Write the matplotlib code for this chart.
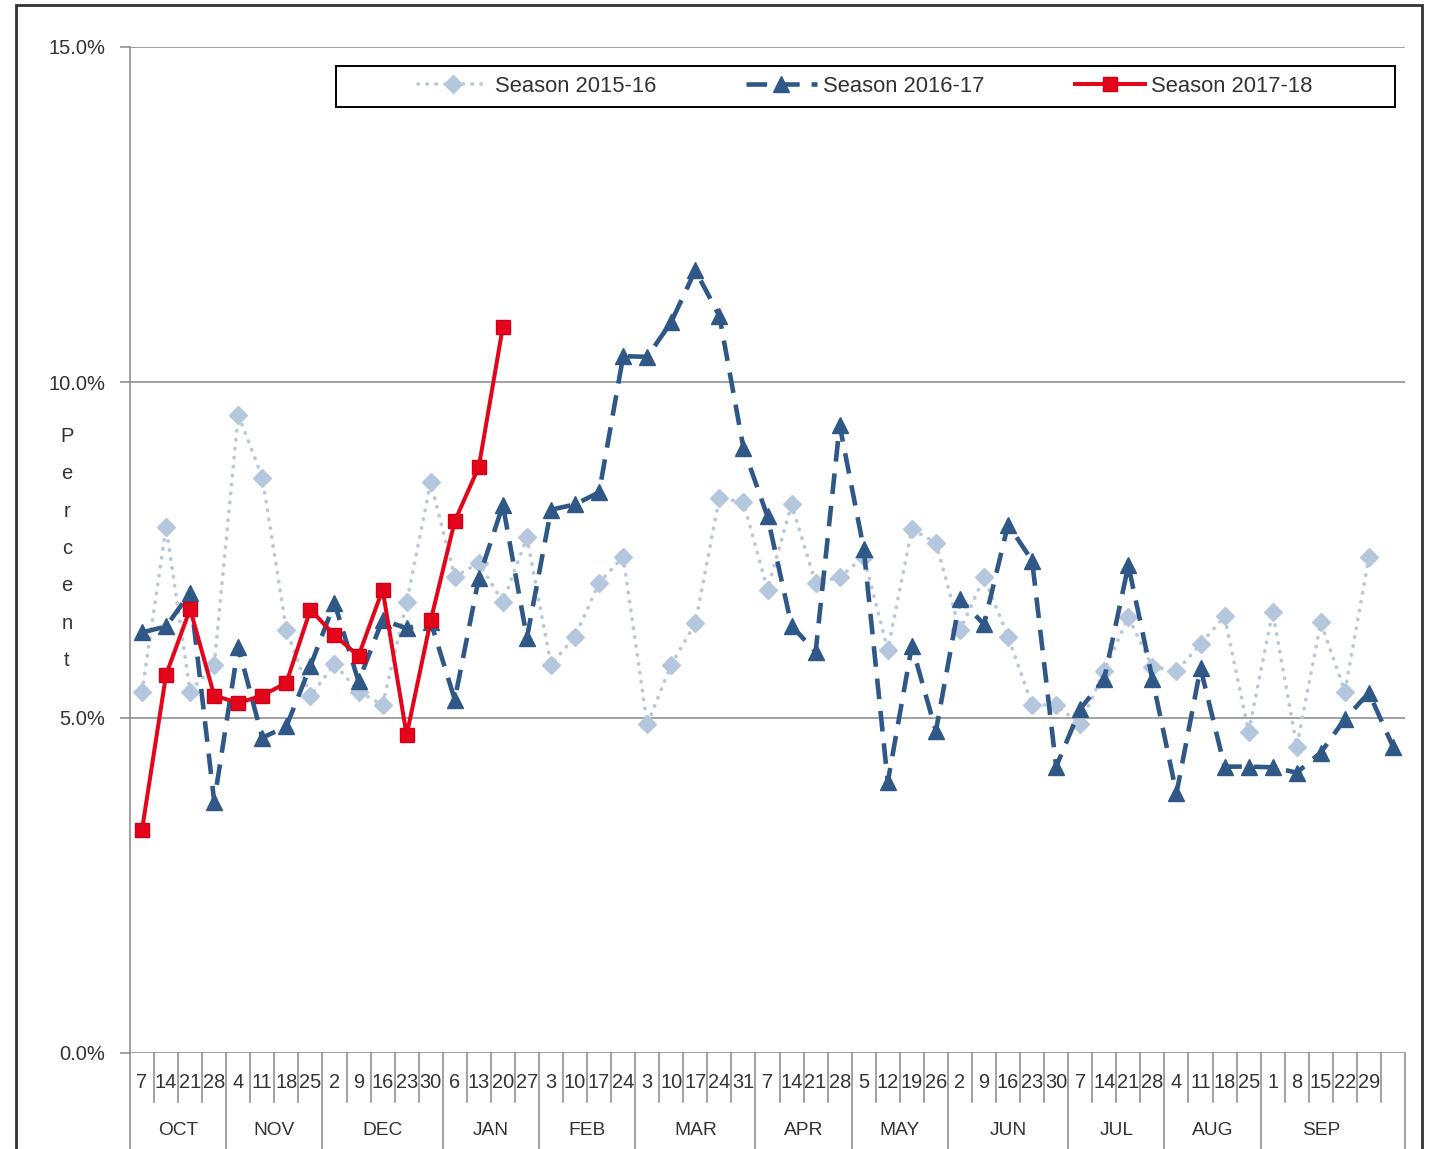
import numpy as np
import matplotlib.pyplot as plt
from matplotlib.patches import Rectangle
from matplotlib.ticker import FuncFormatter

plt.rcParams['font.family'] = ['Liberation Sans', 'DejaVu Sans']

# week-ending day labels, Oct 2017 .. Sep 2018, plus one spare slot
weeks = [7, 14, 21, 28, 4, 11, 18, 25, 2, 9, 16, 23, 30, 6, 13, 20, 27,
         3, 10, 17, 24, 3, 10, 17, 24, 31, 7, 14, 21, 28, 5, 12, 19, 26,
         2, 9, 16, 23, 30, 7, 14, 21, 28, 4, 11, 18, 25, 1, 8, 15, 22, 29, '']
months = ['OCT', 'NOV', 'DEC', 'JAN', 'FEB', 'MAR', 'APR', 'MAY', 'JUN', 'JUL', 'AUG', 'SEP']
month_weeks = [4, 4, 5, 4, 4, 5, 4, 4, 5, 4, 4, 5]

s1516 = [5.39, 7.84, 5.39, 5.79, 9.52, 8.58, 6.31, 5.32, 5.80, 5.39, 5.19, 6.72, 8.51,
         7.10, 7.31, 6.72, 7.69, 5.79, 6.21, 7.01, 7.40, 4.90, 5.79, 6.41, 8.28, 8.21,
         6.91, 8.18, 7.01, 7.09, 7.40, 6.01, 7.81, 7.61, 6.30, 7.09, 6.21, 5.19, 5.19,
         4.90, 5.70, 6.50, 5.76, 5.69, 6.10, 6.51, 4.79, 6.58, 4.57, 6.42, 5.39, 7.39, np.nan]
s1617 = [6.27, 6.36, 6.86, 3.75, 6.06, 4.70, 4.87, 5.77, 6.71, 5.54, 6.46, 6.33, 6.43,
         5.27, 7.08, 8.17, 6.19, 8.10, 8.18, 8.36, 10.39, 10.38, 10.90, 11.67, 10.99, 9.02,
         8.00, 6.37, 5.98, 9.36, 7.52, 4.04, 6.07, 4.80, 6.77, 6.39, 7.88, 7.34, 4.27,
         5.13, 5.58, 7.27, 5.58, 3.87, 5.74, 4.27, 4.27, 4.26, 4.18, 4.48, 4.98, 5.37, 4.57]
s1718 = [3.33, 5.64, 6.62, 5.33, 5.22, 5.33, 5.52, 6.61, 6.23, 5.92, 6.91, 4.74, 6.45,
         7.93, 8.74, 10.83]

W, H = 1435, 1149
fig = plt.figure(figsize=(W / 100, H / 100), dpi=100)
ax = fig.add_axes([130 / W, 1 - 1053 / H, 1275 / W, 1006 / H])

x = np.arange(len(weeks)) + 0.5
grey = '#878787'
txt = '#333333'

ax.plot(x, s1516, color='#B9C9DD', lw=2.7, linestyle=(0, (0.1, 2.3)),
        dash_capstyle='round', marker='D', ms=9.5, mfc='#B5C7DD', mec='#B5C7DD',
        label='Season 2015-16', zorder=3)
ax.plot(x, s1617, color='#2F5887', lw=3.3, linestyle=(0, (4.5, 2.6)),
        marker='^', ms=11, mfc='#2F5887', mec='#2F5887',
        label='Season 2016-17', zorder=4)
ax.plot(x[:len(s1718)], s1718, color='#E3061B', lw=2.9, marker='s', ms=10.5,
        mfc='#E3061B', mec='#D0001A', label='Season 2017-18', zorder=5)

ax.set_xlim(0, len(weeks))
ax.set_ylim(0, 15)
ax.set_yticks([0, 5, 10, 15])
ax.yaxis.set_major_formatter(FuncFormatter(lambda v, p: f'{v:.1f}%'))
ax.tick_params(axis='y', length=7, width=1.1, color=grey, pad=11,
               labelsize=14.5, labelcolor=txt)
ax.set_xticks([])
ax.yaxis.grid(True, color=grey, lw=1.1)
ax.set_axisbelow(True)
for s in ['top', 'right', 'bottom']:
    ax.spines[s].set_visible(False)
ax.spines['left'].set_color(grey)
ax.spines['left'].set_linewidth(1.1)

# multi-level category axis below the plot
tr = ax.get_xaxis_transform()
bounds = np.cumsum([0] + month_weeks)
bounds[-1] = len(weeks)
for k in range(1, len(weeks)):
    if k not in bounds:
        ax.plot([k, k], [0, -0.0487], transform=tr, color=grey, lw=1.1, clip_on=False)
for k in bounds:
    ax.plot([k, k], [0, -0.1], transform=tr, color=grey, lw=1.1, clip_on=False)
for i, w in enumerate(weeks):
    ax.text(x[i], -0.0298, str(w), transform=tr, ha='center', va='center',
            fontsize=14.4, color=txt, clip_on=False)
start = 0
for m, n in zip(months, month_weeks):
    ax.text(start + n / 2, -0.0775, m, transform=tr, ha='center', va='center',
            fontsize=13.8, color=txt, clip_on=False)
    start += n

# legend with its own box
ax.add_patch(Rectangle(((336 - 130) / 1275, (1053 - 107) / 1006), 1059 / 1275, 41 / 1006,
                       transform=ax.transAxes, facecolor='white', edgecolor='black',
                       lw=1.4, zorder=6))
leg = ax.legend(loc='center', bbox_to_anchor=((865.5 - 130) / 1275, (1053 - 86.5) / 1006),
                ncol=3, frameon=False, fontsize=15.8, handlelength=3.2,
                handletextpad=0.3, columnspacing=4.1, borderpad=0)
leg.set_zorder(7)
for t in leg.get_texts():
    t.set_color(txt)

fig.text(67 / W, 1 - 548.5 / H, '\n'.join('Percent'), ha='center', va='center',
         fontsize=14.5, color=txt, linespacing=2.23)

fig.add_artist(Rectangle((16 / W, -0.02), (1422 - 16) / W, 1.02 - 5 / H,
                         transform=fig.transFigure, fill=False, ec='#333333', lw=2))

fig.savefig('out.png', dpi=100)
